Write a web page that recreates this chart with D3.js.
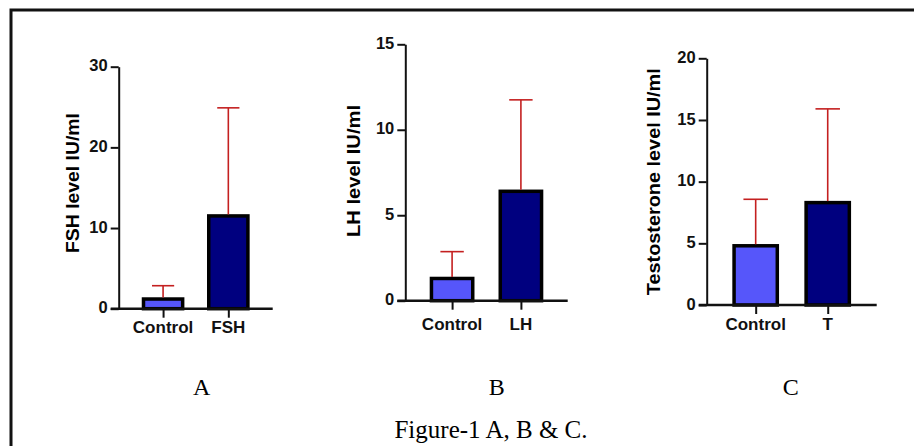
<!DOCTYPE html>
<html><head><meta charset="utf-8">
<script src="https://cdn.jsdelivr.net/npm/d3@7/dist/d3.min.js"></script>
<style>html,body{margin:0;padding:0;background:#fff;overflow:hidden}</style>
</head><body>
<script>
// ---- data ----
const panelLetters = ["A", "B", "C"];
const fshCategories = ["Control", "FSH"];
const lhCategories = ["Control", "LH"];
const tCategories = ["Control", "T"];
const fshMeans = [1.2, 11.5];
const fshSD = [1.65, 13.4];
const lhMeans = [1.3, 6.4];
const lhSD = [1.57, 5.35];
const tMeans = [4.8, 8.3];
const tSD = [3.77, 7.6];
const fshTicks = [0, 10, 20, 30];
const lhTicks = [0, 5, 10, 15];
const tTicks = [0, 5, 10, 15, 20];
const yTitles = ["FSH level IU/ml", "LH level IU/ml", "Testosterone level IU/ml"];
const figureTitle = "Figure-1 A, B & C.";

// ---- layout ----
const W = 914, H = 446;
const svg = d3.select("body").append("svg").attr("width", W).attr("height", H);
svg.append("rect").attr("width", W).attr("height", H).attr("fill", "#fff");

// frame
svg.append("path").attr("d", `M11,${H} L11,10 L${W},10`)
  .attr("fill", "none").attr("stroke", "#111").attr("stroke-width", 3);

const panels = [
  {cats: fshCategories, means: fshMeans, sd: fshSD, ticks: fshTicks, title: yTitles[0], letter: panelLetters[0],
   x0: 118.7, x1: 272.7, y0: 308.7, y1: 66.7, labelDy: 24.6, titleX: 72.7, titleY: 183, titleLen: 140, letterX: 201.7},
  {cats: lhCategories, means: lhMeans, sd: lhSD, ticks: lhTicks, title: yTitles[1], letter: panelLetters[1],
   x0: 405.3, x1: 567.7, y0: 300.7, y1: 44.3, labelDy: 29.5, titleX: 353, titleY: 171, titleLen: 132, letterX: 496.7},
  {cats: tCategories, means: tMeans, sd: tSD, ticks: tTicks, title: yTitles[2], letter: panelLetters[2],
   x0: 706.7, x1: 876.7, y0: 305, y1: 58.3, labelDy: 25, titleX: 653, titleY: 181.7, titleLen: 227, letterX: 790.7}
];

const sans = "'Liberation Sans', Arial, sans-serif";
const serif = "'Liberation Serif', 'Times New Roman', serif";
const ctrlColor = "#5656FA";
const trtColor = "#00007F";
const errColor = "#C42020";

panels.forEach(p => {
  const g = svg.append("g");
  const yMax = p.ticks[p.ticks.length - 1];
  const y = d3.scaleLinear().domain([0, yMax]).range([p.y0, p.y1]);
  const x = d3.scalePoint().domain(p.cats).range([p.x0, p.x1]).padding(0.68);
  const step = x.step();
  const bw = step * 0.6;
  const capW = step * 0.34;

  // y axis
  const yAxis = d3.axisLeft(y).tickValues(p.ticks).tickSize(8).tickPadding(3).tickSizeOuter(0);
  const ya = g.append("g").attr("transform", `translate(${p.x0},0)`).call(yAxis);
  ya.select(".domain").attr("stroke", "#111").attr("stroke-width", 2);
  ya.selectAll(".tick line").attr("stroke", "#111").attr("stroke-width", 2);
  ya.selectAll(".tick text").attr("font-family", sans).attr("font-weight", "bold")
    .attr("font-size", 16.5).attr("fill", "#111").attr("dy", "0.25em");

  // bars
  g.selectAll("rect.bar").data(p.cats).enter().append("rect")
    .attr("x", d => x(d) - bw / 2)
    .attr("y", (d, i) => y(p.means[i]))
    .attr("width", bw)
    .attr("height", (d, i) => y(0) - y(p.means[i]))
    .attr("fill", (d, i) => i === 0 ? ctrlColor : trtColor)
    .attr("stroke", "#000").attr("stroke-width", 3.5);

  // error bars (upper)
  p.cats.forEach((c, i) => {
    const top = y(p.means[i] + p.sd[i]);
    const base = y(p.means[i]) - 1.5;
    g.append("line").attr("x1", x(c)).attr("x2", x(c)).attr("y1", base).attr("y2", top)
      .attr("stroke", errColor).attr("stroke-width", 1.6);
    g.append("line").attr("x1", x(c) - capW / 2).attr("x2", x(c) + capW / 2).attr("y1", top).attr("y2", top)
      .attr("stroke", errColor).attr("stroke-width", 1.6);
  });

  // x axis
  const xAxis = d3.axisBottom(x).tickSize(9).tickSizeOuter(0).tickFormat(() => "");
  const xa = g.append("g").attr("transform", `translate(0,${p.y0})`).call(xAxis);
  xa.select(".domain").attr("d", `M${p.x0 - 8},0H${p.x1}`).attr("stroke", "#111").attr("stroke-width", 2.5);
  xa.selectAll(".tick line").attr("stroke", "#111").attr("stroke-width", 2);
  g.selectAll("text.cat").data(p.cats).enter().append("text")
    .attr("x", d => x(d)).attr("y", p.y0 + p.labelDy)
    .attr("text-anchor", "middle").attr("font-family", sans).attr("font-weight", "bold")
    .attr("font-size", 17).attr("fill", "#111").text(d => d);

  // y title
  g.append("text").attr("transform", `translate(${p.titleX},${p.titleY}) rotate(-90)`)
    .attr("text-anchor", "middle").attr("dy", "0.35em")
    .attr("font-family", sans).attr("font-weight", "bold").attr("font-size", 19)
    .attr("textLength", p.titleLen).attr("lengthAdjust", "spacingAndGlyphs")
    .attr("fill", "#000").text(p.title);

  // panel letter
  g.append("text").attr("x", p.letterX).attr("y", 395).attr("text-anchor", "middle")
    .attr("font-family", serif).attr("font-size", 24).attr("fill", "#000").text(p.letter);
});

svg.append("text").attr("x", 491).attr("y", 438).attr("text-anchor", "middle")
  .attr("font-family", serif).attr("font-size", 25).attr("fill", "#000").text(figureTitle);
</script>
</body></html>
